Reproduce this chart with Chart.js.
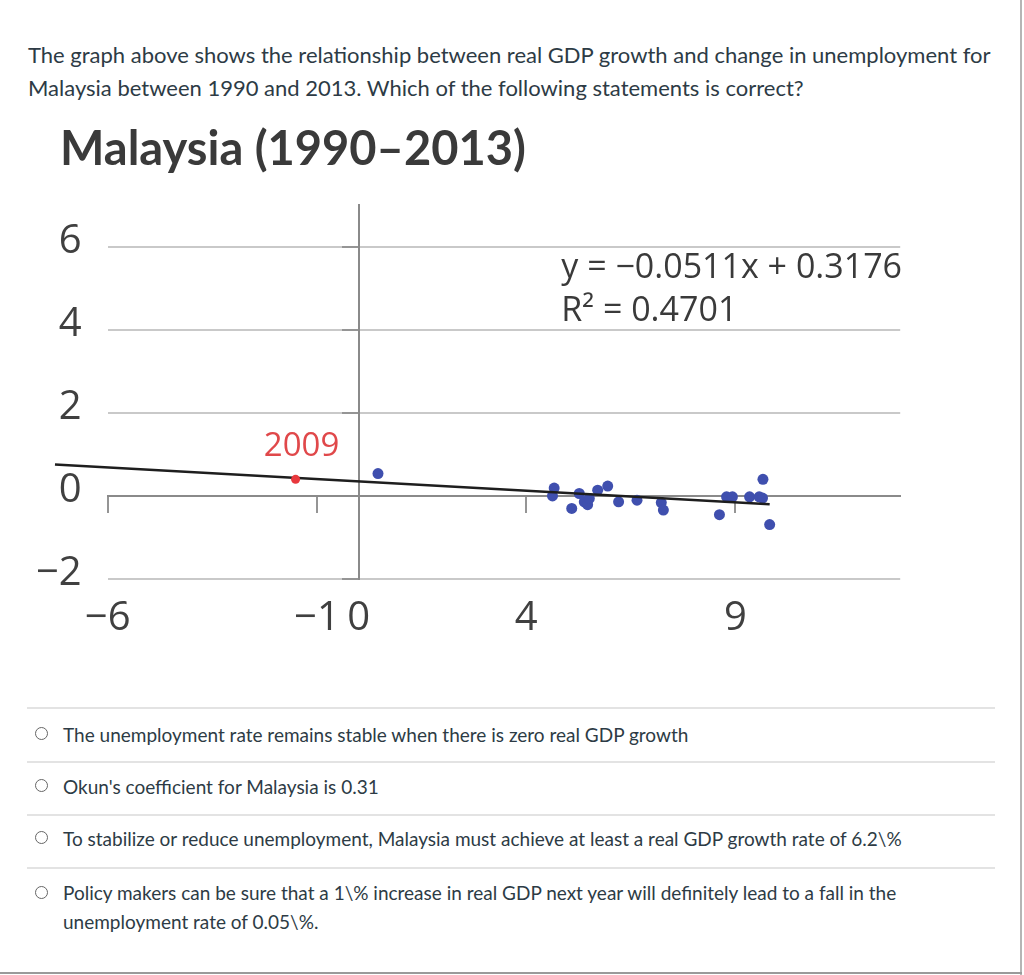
<!DOCTYPE html>
<html>
<head>
<meta charset="utf-8">
<title>Malaysia (1990–2013)</title>
<script src="https://cdn.jsdelivr.net/npm/chart.js@4.4.0/dist/chart.umd.min.js"></script>
<style>
  body { margin: 0; background: #fff; font-family: Lato, sans-serif; color: #2d3b45; }
  #page { position: relative; width: 1024px; height: 975px; overflow: hidden; }
  .question { position: absolute; left: 28px; top: 38px; width: 990px; font-size: 22px; line-height: 33px; }
  #chartBox { position: absolute; left: 0; top: 100px; width: 940px; height: 570px; }
  .sep { position: absolute; left: 27px; width: 968px; height: 2px; background: #e3e3e3; }
  .opt { position: absolute; left: 63px; width: 945px; font-size: 19px; line-height: 29px; }
  .radio { position: absolute; left: 35px; width: 11px; height: 11px; border: 1.5px solid #666; border-radius: 50%; }
  #rightBorder { position: absolute; left: 1020px; top: 0; width: 2px; height: 975px; background: #b5b5b5; }
  #bottomBorder { position: absolute; left: 0; top: 972px; width: 1022px; height: 2px; background: #9a9a9a; }
</style>
</head>
<body>
<div id="page">
  <div class="question">The graph above shows the relationship between real GDP growth and change in unemployment for<br>Malaysia between 1990 and 2013. Which of the following statements is correct?</div>

  <div id="chartBox"><canvas id="okun" width="940" height="570"></canvas></div>

  <div class="sep" style="top:707px"></div>
  <div class="radio" style="top:727px"></div>
  <div class="opt" style="top:720px">The unemployment rate remains stable when there is zero real GDP growth</div>
  <div class="sep" style="top:761px"></div>
  <div class="radio" style="top:779px"></div>
  <div class="opt" style="top:772px">Okun's coefficient for Malaysia is 0.31</div>
  <div class="sep" style="top:814px"></div>
  <div class="radio" style="top:831px"></div>
  <div class="opt" style="top:824px">To stabilize or reduce unemployment, Malaysia must achieve at least a real GDP growth rate of 6.2\%</div>
  <div class="sep" style="top:867px"></div>
  <div class="radio" style="top:886px"></div>
  <div class="opt" style="top:878px">Policy makers can be sure that a 1\% increase in real GDP next year will definitely lead to a fall in the<br>unemployment rate of 0.05\%.</div>

  <div id="rightBorder"></div>
  <div id="bottomBorder"></div>
</div>

<script>
// 數據：實質 GDP 成長率 (x) 與失業率變化 (y)
const growth = [-7.16, 0.46, 4.67, 4.63, 5.09, 5.27, 5.39, 5.47, 5.51, 5.71, 5.95, 6.21, 6.65, 7.23, 7.28, 8.62, 8.79, 8.93, 9.34, 9.57, 9.66, 9.65, 9.82];
const unempChange = [1.18, 0.54, 0.19, 0.00, -0.30, 0.06, -0.14, -0.21, -0.06, 0.14, 0.24, -0.14, -0.10, -0.16, -0.34, -0.45, -0.02, -0.02, -0.02, -0.02, 0.40, -0.05, -0.69];

// 2009 年（紅點）
const growth2009 = [-1.51];
const unempChange2009 = [0.40];

// 趨勢線兩端
const trendX = [-7.26, 9.82];
const trendY = [0.76, -0.20];

// 刻度
const xTickValues = [-6, -1, 0, 4, 9];
const xAxisTickValues = [-6, -1, 4, 9];
const yTickValues = [-2, 0, 2, 4, 6];

const equationLines = ['y = −0.0511x + 0.3176', 'R² = 0.4701'];
const label2009 = '2009';

const toPoints = (xs, ys) => xs.map((x, i) => ({ x: x, y: ys[i] }));
const fmt = v => (v < 0 ? '−' + Math.abs(v) : String(v));

// 文字標註：方程式與 2009
const annotationPlugin = {
    id: 'annotations',
    afterDatasetsDraw(chart) {
        const ctx = chart.ctx;
        const xs = chart.scales.x, ys = chart.scales.y;
        ctx.save();
        ctx.fillStyle = '#3a3a3a';
        ctx.font = '34px "Open Sans"';
        ctx.textAlign = 'left';
        ctx.textBaseline = 'middle';
        ctx.fillText(equationLines[0], xs.getPixelForValue(4.84), ys.getPixelForValue(5.49));
        ctx.fillText(equationLines[1], xs.getPixelForValue(4.84), ys.getPixelForValue(4.44));

        const red = chart.getDatasetMeta(0).data[0];
        ctx.fillStyle = '#e0484a';
        ctx.font = '33px "Open Sans"';
        ctx.textAlign = 'center';
        ctx.fillText(label2009, red.x + 6, red.y - 33);
        ctx.restore();
    }
};

const tickFont = { family: 'Open Sans', size: 40, lineHeight: 1.2 };

new Chart(document.getElementById('okun'), {
    type: 'scatter',
    data: {
        datasets: [
            {
                label: '2009',
                data: toPoints(growth2009, unempChange2009),
                backgroundColor: '#e8383d',
                borderWidth: 0,
                pointRadius: 4.5,
                order: 0,
                clip: false,
                xAxisID: 'x', yAxisID: 'y'
            },
            {
                label: 'trend',
                data: toPoints(trendX, trendY),
                showLine: true,
                borderColor: '#1e1e1e',
                borderWidth: 2.5,
                pointRadius: 0,
                order: 1,
                clip: false,
                xAxisID: 'x', yAxisID: 'y'
            },
            {
                label: 'Malaysia',
                data: toPoints(growth, unempChange),
                backgroundColor: '#3f4fae',
                borderWidth: 0,
                pointRadius: 5.5,
                order: 2,
                clip: false,
                xAxisID: 'x', yAxisID: 'y'
            }
        ]
    },
    options: {
        responsive: false,
        animation: false,
        layout: { padding: { left: 60, right: 39.8, top: 0, bottom: 0 } },
        plugins: {
            legend: { display: false },
            tooltip: { enabled: false },
            title: {
                display: true,
                text: 'Malaysia (1990–2013)',
                align: 'start',
                color: '#3a3a3a',
                font: { family: 'Lato', size: 47, weight: 'bold', lineHeight: 1.2 },
                padding: { top: 22, bottom: 27 }
            }
        },
        scales: {
            x: {
                type: 'linear', min: -6, max: 12.94,
                grid: { display: false, drawTicks: false },
                border: { display: false },
                afterBuildTicks: s => { s.ticks = xTickValues.map(v => ({ value: v })); },
                afterFit: s => { s.height = 91; },
                ticks: { padding: 16, color: '#404040', font: tickFont, maxRotation: 0, autoSkip: false, callback: v => fmt(v) }
            },
            y: {
                type: 'linear', min: -2, max: 7,
                grid: { color: '#c9c9c9', lineWidth: 2, drawTicks: false },
                border: { display: false },
                afterBuildTicks: s => { s.ticks = yTickValues.map(v => ({ value: v })); },
                afterFit: s => { s.width = 47.7; },
                // mirror 讓標籤不被軸框裁切，再用負 padding 拉回左側
                ticks: { mirror: true, crossAlign: 'far', padding: -71.8, labelOffset: -5, color: '#404040', font: tickFont, callback: v => fmt(v) }
            },
            xAxisLine: {
                type: 'linear', axis: 'x', position: { y: 0 }, min: -6, max: 12.94,
                grid: { drawOnChartArea: false, drawTicks: true, tickLength: 16, color: '#959595', lineWidth: 2 },
                border: { display: true, color: '#8a8a8a', width: 2 },
                afterBuildTicks: s => { s.ticks = xAxisTickValues.map(v => ({ value: v })); },
                ticks: { display: false }
            },
            yAxisLine: {
                type: 'linear', axis: 'y', position: { x: 0 }, min: -2, max: 7,
                grid: { drawOnChartArea: false, drawTicks: true, tickLength: 16, color: '#959595', lineWidth: 2 },
                border: { display: true, color: '#8a8a8a', width: 2 },
                afterBuildTicks: s => { s.ticks = yTickValues.map(v => ({ value: v })); },
                ticks: { display: false }
            }
        }
    },
    plugins: [annotationPlugin]
});
</script>
</body>
</html>
